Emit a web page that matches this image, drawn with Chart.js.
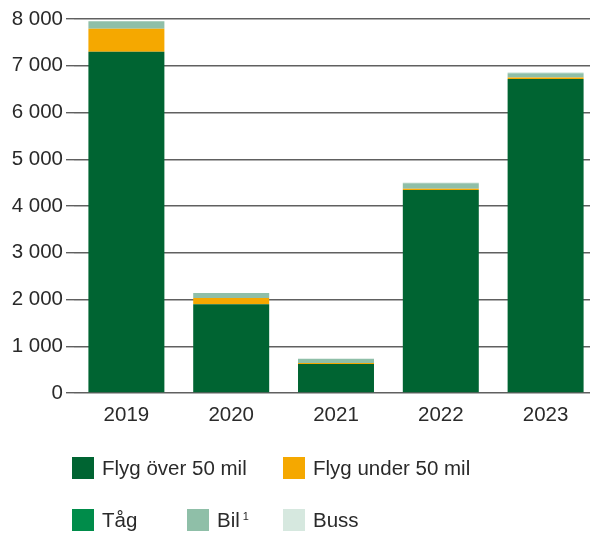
<!DOCTYPE html>
<html>
<head>
<meta charset="utf-8">
<script src="https://cdn.jsdelivr.net/npm/chart.js@4.4.0/dist/chart.umd.min.js"></script>
<style>
html,body{margin:0;padding:0;background:#fff;overflow:hidden;width:590px;height:533px;}
#wrap{position:absolute;left:0;top:0;width:598px;height:440px;}
#legend{position:absolute;left:0;top:0;width:590px;height:533px;pointer-events:none;font-family:"Liberation Sans",Arial,sans-serif;font-size:20.5px;color:#2a2a2a;}
.item{position:absolute;display:flex;align-items:center;height:22px;}
.box{width:22px;height:22px;margin-right:8px;flex:none;}
sup{font-size:11px;position:relative;top:-4px;margin-left:3px;}
</style>
</head>
<body>
<div id="wrap"><canvas id="c" width="598" height="440"></canvas></div>
<div id="legend"></div>
<script>
const categories = ["2019","2020","2021","2022","2023"];
const seriesNames = ["Flyg över 50 mil","Flyg under 50 mil","Tåg","Bil","Buss"];
const flygOver = [7300, 1900, 620, 4340, 6715];
const flygUnder = [490, 130, 20, 30, 36];
const tag = [0, 0, 0, 0, 0];
const bil = [160, 110, 95, 115, 90];
const buss = [0, 0, 0, 20, 20];
const yTicks = [0,1000,2000,3000,4000,5000,6000,7000,8000];
const colors = ["#006432","#F5A800","#008C4A","#8FBFA8","#D6E8DF"];

const values = [flygOver, flygUnder, tag, bil, buss];
const datasets = seriesNames.map((n,i)=>({
  label:n, data:values[i], backgroundColor:colors[i], borderWidth:0,
  barPercentage:0.725, categoryPercentage:1.0
}));
const fnt = {family:'"Liberation Sans", Arial, sans-serif', size:20.5};

new Chart(document.getElementById('c'), {
  type:'bar',
  data:{labels:categories, datasets:datasets},
  options:{
    responsive:false, animation:false,
    layout:{padding:{top:19,right:0,left:0,bottom:0}},
    plugins:{legend:{display:false}, tooltip:{enabled:false}},
    scales:{
      x:{stacked:true, grid:{display:false}, border:{display:false},
         ticks:{color:'#2a2a2a', font:fnt, padding:2},
         afterFit:(s)=>{s.height=47;}},
      y:{stacked:true, min:0, max:8000,
         afterBuildTicks:(s)=>{s.ticks=yTicks.map(v=>({value:v}));},
         grid:{color:'#606060', lineWidth:1.4, tickLength:8, drawTicks:true},
         border:{display:false},
         ticks:{color:'#2a2a2a', padding:3, font:fnt,
           callback:(v)=>String(v).replace(/\B(?=(\d{3})+(?!\d))/g,' ')},
         afterFit:(s)=>{s.width=74;}}
    }
  }
});

const legendPos = [[72,457],[283,457],[72,509],[187,509],[283,509]];
const leg = document.getElementById('legend');
seriesNames.forEach((n,i)=>{
  const d=document.createElement('div'); d.className='item';
  d.style.left=legendPos[i][0]+'px'; d.style.top=legendPos[i][1]+'px';
  const b=document.createElement('span'); b.className='box'; b.style.background=colors[i];
  const t=document.createElement('span'); t.textContent=n;
  d.appendChild(b); d.appendChild(t);
  if(n==='Bil'){const s=document.createElement('sup'); s.textContent='1'; d.appendChild(s);}
  leg.appendChild(d);
});
</script>
</body>
</html>
